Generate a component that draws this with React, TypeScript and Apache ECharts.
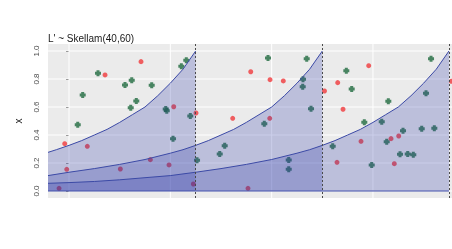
import React, { useEffect, useRef } from "react";
import * as echarts from "echarts";

const titleText = "L' ~ Skellam(40,60)";
const yTicks = [0, 0.2, 0.4, 0.6, 0.8, 1.0];
const xGridLines = [0, 20, 40, 60];
const cutLines = [25, 50, 75];

const greenX = [5.72, 2.7, 1.72, 11.05, 12.38, 16.32, 13.28, 12.18, 19.09, 19.29, 22.17, 23.15, 23.94, 20.53, 25.27,
  39.28, 46.92, 46.19, 46.13, 47.77, 38.55, 30.73, 29.75, 43.37, 43.37,
  71.46, 54.74, 55.8, 70.47, 63.03, 58.29, 61.73, 65.93, 69.62, 72.11, 62.71, 52.05, 65.34, 66.86, 67.96, 59.75, -4.6];
const greenY = [0.841, 0.686, 0.474, 0.757, 0.791, 0.755, 0.643, 0.595, 0.586, 0.574, 0.891, 0.934, 0.536, 0.374, 0.219,
  0.95, 0.945, 0.798, 0.745, 0.588, 0.481, 0.324, 0.264, 0.221, 0.155,
  0.945, 0.859, 0.729, 0.698, 0.641, 0.491, 0.495, 0.431, 0.445, 0.448, 0.352, 0.319, 0.262, 0.264, 0.259, 0.186, 0.536];

const redX = [14.21, 7.11, 20.67, 25.07, -0.85, 3.61, -0.45, 10.13, 16.05, 19.74, -1.97, 24.54,
  35.87, 39.68, 42.3, 50.43, 32.31, 39.62, 35.33,
  59.16, 53.04, 54.09, 75.46, 57.64, 63.56, 65.08, 52.9, 64.21, -4.6];
const redY = [0.924, 0.829, 0.602, 0.557, 0.338, 0.319, 0.155, 0.157, 0.224, 0.186, 0.019, 0.05,
  0.852, 0.795, 0.786, 0.714, 0.519, 0.519, 0.019,
  0.895, 0.774, 0.584, 0.784, 0.355, 0.374, 0.393, 0.205, 0.195, 0.764];

const curveAX = [-4.15, -2.5, 0, 2.5, 5, 7.5, 10, 12.5, 15, 17.5, 20, 22.5, 25];
const curveAY = [0.276, 0.295, 0.326, 0.36, 0.4, 0.44, 0.49, 0.545, 0.6, 0.68, 0.77, 0.87, 1.0];
const curveBX = [-4.15, 0, 5, 10, 15, 20, 22.5, 25, 27.5, 30, 32.5, 35, 37.5, 40, 42.5, 45, 47.5, 50];
const curveBY = [0.11, 0.134, 0.16, 0.19, 0.225, 0.27, 0.295, 0.326, 0.36, 0.4, 0.44, 0.49, 0.545, 0.6, 0.68, 0.77, 0.87, 1.0];
const curveCX = [-4.15, 0, 5, 10, 15, 20, 25, 30, 35, 40, 45, 47.5, 50, 52.5, 55, 57.5, 60, 62.5, 65, 67.5, 70, 72.5, 75];
const curveCY = [0.055, 0.06, 0.068, 0.08, 0.095, 0.11, 0.134, 0.16, 0.19, 0.225, 0.27, 0.295, 0.326, 0.36, 0.4, 0.44, 0.49, 0.545, 0.6, 0.68, 0.77, 0.87, 1.0];
const baseX = [-4.15, 75];
const baseY = [0, 0];

const zip = (xs: number[], ys: number[]) => xs.map((x, i) => [x, ys[i]]);

const LINE = "#3c4aa6";
const FILL = "rgba(40,52,168,0.35)";
const FONT = "Liberation Sans, Arial, sans-serif";

export default function App() {
  const ref = useRef<HTMLDivElement>(null);
  useEffect(() => {
    if (!ref.current) return;
    const chart = echarts.init(ref.current, undefined, { renderer: "svg" });
    const areaSeries = (xs: number[], ys: number[]) => ({
      type: "line",
      data: zip(xs, ys),
      smooth: false,
      symbol: "none",
      lineStyle: { color: LINE, width: 1 },
      areaStyle: { color: FILL, origin: 0 },
      z: 4,
      silent: true,
    });
    const gridSeries = (data: number[][]) => ({
      type: "line",
      data,
      symbol: "none",
      lineStyle: { color: "#ffffff", width: 1 },
      z: 1,
      silent: true,
      clip: true,
    });
    chart.setOption({
      animation: false,
      title: {
        text: titleText,
        left: 48,
        top: 33,
        padding: 0,
        textStyle: { fontSize: 10, fontWeight: "normal", color: "#1a1a1a", fontFamily: FONT },
      },
      grid: { left: 48, top: 44, right: 0, height: 154, show: true, backgroundColor: "#ebebeb", borderWidth: 0 },
      xAxis: {
        type: "value",
        min: -4.15,
        max: 75.6,
        axisLine: { show: false },
        axisTick: { show: false },
        axisLabel: { show: false },
        splitLine: { show: false },
      },
      yAxis: {
        type: "value",
        min: -0.05,
        max: 1.05,
        name: "x",
        nameLocation: "middle",
        nameRotate: 90,
        nameGap: 25,
        nameTextStyle: { fontSize: 10, color: "#1a1a1a", fontFamily: FONT },
        axisLine: { show: false },
        axisTick: { show: true, length: 3, lineStyle: { color: "#333" }, customValues: yTicks },
        axisLabel: {
          rotate: 90,
          margin: 8,
          fontSize: 8,
          color: "#4d4d4d",
          fontFamily: FONT,
          customValues: yTicks,
          formatter: (v: number) => v.toFixed(1),
        },
        splitLine: { show: false },
      },
      series: [
        ...xGridLines.map((v) => gridSeries([[v, -0.2], [v, 1.2]])),
        ...yTicks.map((v) => gridSeries([[-10, v], [90, v]])),
        {
          type: "scatter",
          data: zip(greenX, greenY),
          symbol: "path://M2.5,0L7.5,0L7.5,2.5L10,2.5L10,7.5L7.5,7.5L7.5,10L2.5,10L2.5,7.5L0,7.5L0,2.5L2.5,2.5Z",
          symbolSize: 6,
          itemStyle: { color: "#1f6a3e" },
          z: 2,
          clip: true,
        },
        {
          type: "scatter",
          data: zip(redX, redY),
          symbol: "circle",
          symbolSize: 5,
          itemStyle: { color: "#f03a3c" },
          z: 2,
          clip: true,
        },
        areaSeries(curveAX, curveAY),
        areaSeries(curveBX, curveBY),
        areaSeries(curveCX, curveCY),
        {
          type: "line",
          data: zip(baseX, baseY),
          symbol: "none",
          lineStyle: { color: LINE, width: 1 },
          z: 5,
          silent: true,
        },
        {
          type: "line",
          data: [],
          z: 10,
          silent: true,
          markLine: {
            silent: true,
            symbol: ["none", "none"],
            label: { show: false },
            lineStyle: { color: "#4a4a4a", width: 1, type: [2, 2] },
            data: cutLines.map((v) => ({ xAxis: v })),
          },
        },
      ],
    });
    return () => chart.dispose();
  }, []);
  return <div ref={ref} style={{ position: "fixed", left: 0, top: 0, width: 452, height: 249 }} />;
}
